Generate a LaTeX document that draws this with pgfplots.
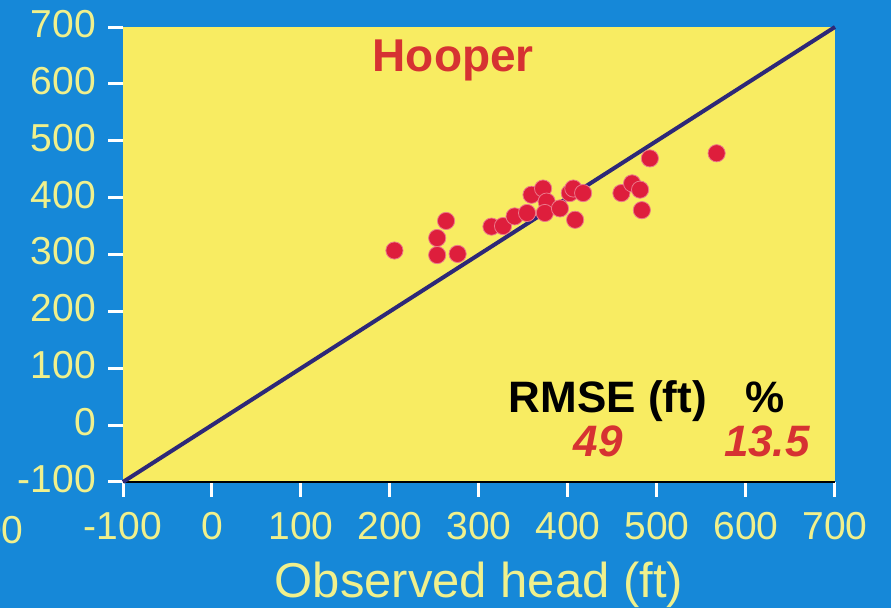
\documentclass[border=0pt]{standalone}
\usepackage{pgfplots}
\pgfplotsset{compat=1.18}
\usepackage{fontspec}
\setmainfont{Liberation Sans}
\definecolor{bgblue}{RGB}{22,136,216}
\definecolor{plotyel}{RGB}{248,236,98}
\definecolor{labyel}{RGB}{240,240,140}
\definecolor{dotred}{RGB}{222,30,60}
\definecolor{txtred}{RGB}{214,50,50}
\definecolor{navy}{RGB}{45,40,120}
\pgfplotstableread{
x y
205 307
263 359
253 329
253 299
276 301
314 349
327 350
340 367
354 373
359 405
372 416
376 393
374 373
391 381
402 408
406 416
417 408
408 361
460 408
472 425
481 414
483 378
492 469
567 478
}\pts
\begin{document}
\begin{tikzpicture}
\useasboundingbox (0,0) rectangle (445.5pt,304pt);
\fill[bgblue] (0,0) rectangle (445.5pt,304pt);
\node[anchor=base east, text=labyel, font=\fontsize{19.5}{20}\selectfont, inner sep=0pt] at (12pt,32pt) {700};
\begin{axis}[
  at={(61.5pt,63pt)}, anchor=south west,
  width=356pt, height=227.5pt, scale only axis,
  xmin=-100, xmax=700, ymin=-100, ymax=700,
  xtick={-100,0,...,700}, ytick={-100,0,...,700},
  axis background/.style={fill=plotyel},
  axis x line*=bottom, axis y line*=left,
  x axis line style={black, line width=1pt, -},
  y axis line style={draw=none},
  tick align=outside,
  major tick length=7.5pt,
  tick style={white, line width=1.5pt},
  tick label style={text=labyel, font=\fontsize{19.5}{20}\selectfont},
  yticklabel style={xshift=-2.5pt, yshift=1.5pt},
  xticklabel style={yshift=-4pt},
  /pgf/number format/assume math mode=true,
  xlabel={Observed head (ft)},
  xlabel style={font=\fontsize{24.5}{26}\selectfont, text=labyel, yshift=-4.5pt},
  clip=false,
]
\addplot[navy, line width=2pt] coordinates {(-100,-100) (700,700)};
\addplot[only marks, mark=*, mark size=4.3pt, mark options={fill=dotred, draw=dotred!60!white, line width=0.4pt}] table[x=x,y=y] {\pts};
\node[anchor=base, text=txtred, font=\fontsize{23}{24}\selectfont\bfseries] at (axis cs:271,621) {Hooper};
\node[anchor=base west, text=black, font=\fontsize{22}{23}\selectfont\bfseries, inner sep=0pt] at (axis cs:333,22) {RMSE (ft)};
\node[anchor=base, text=black, font=\fontsize{22}{23}\selectfont\bfseries, inner sep=0pt] at (axis cs:621,22) {\%};
\node[anchor=base, text=txtred, font=\fontsize{22}{23}\selectfont\bfseries\itshape, inner sep=0pt] at (axis cs:434,-56) {49};
\node[anchor=base east, text=txtred, font=\fontsize{22}{23}\selectfont\bfseries\itshape, inner sep=0pt] at (axis cs:672,-56) {13.5};
\end{axis}
\end{tikzpicture}
\end{document}
